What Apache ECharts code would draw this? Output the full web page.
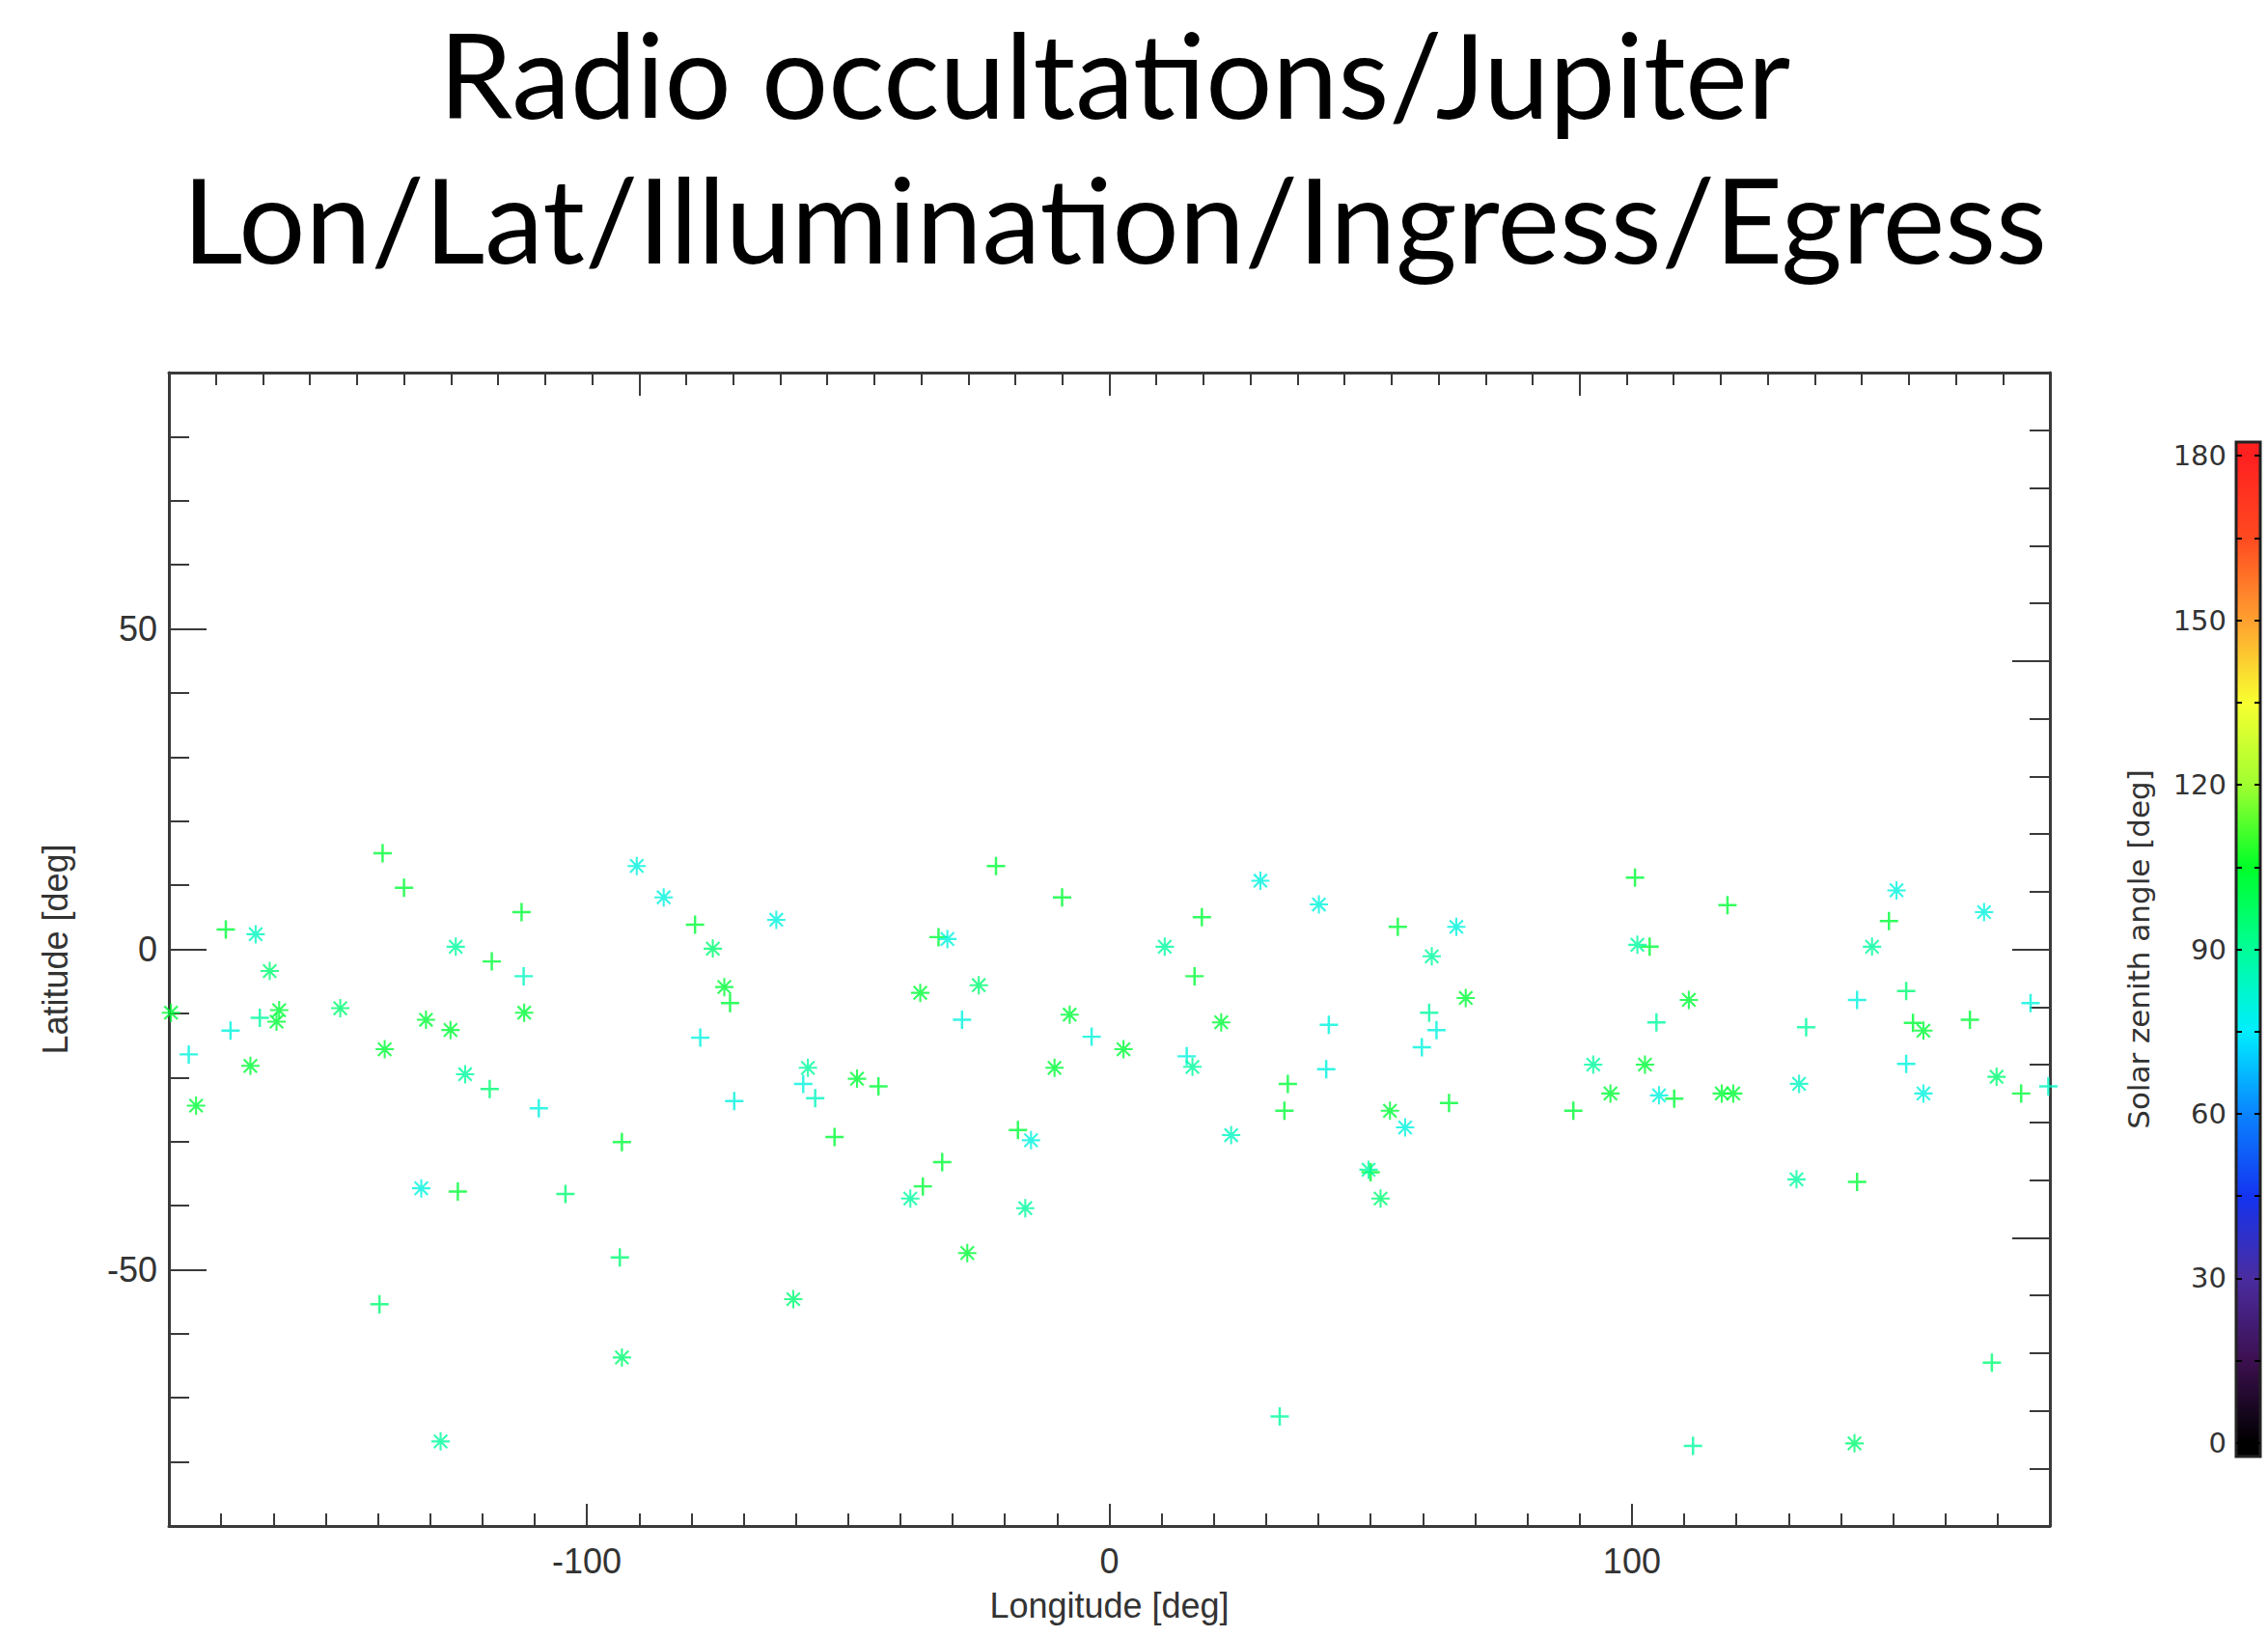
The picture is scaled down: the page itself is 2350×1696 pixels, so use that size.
<!DOCTYPE html>
<html>
<head>
<meta charset="utf-8">
<script src="https://cdn.jsdelivr.net/npm/echarts@6/dist/echarts.min.js"></script>
<style>
html,body{margin:0;padding:0;background:#fff;}
#chart{width:2350px;height:1696px;}
</style>
</head>
<body>
<div id="chart"></div>
<script>
// ---------- text ----------
const titleLines = ['Radio occultations/Jupiter', 'Lon/Lat/Illumination/Ingress/Egress'];
const xAxisName = 'Longitude [deg]';
const yAxisName = 'Latitude [deg]';
const cbarName = 'Solar zenith angle [deg]';

// ---------- tick values ----------
const lonLabelTicks = [-100, 0, 100];
const latLabelTicks = [-50, 0, 50];
const cbarLabelTicks = [0, 30, 60, 90, 120, 150, 180];
const cbarMinorTicks = [0, 15, 30, 45, 60, 75, 90, 105, 120, 135, 150, 165, 180];

// ---------- colour table (solar zenith angle 0..180, one colour every 15 deg) ----------
const cmapColors = ['#000000', '#3c1050', '#4a2ca0', '#1434f0', '#0a84ff', '#00eeff', '#00ff98',
                    '#00ff28', '#a0ff30', '#f8ff30', '#ffa030', '#ff4a20', '#ff2020'];
const szaMin = 0, szaMax = 180;
const cbarExtent = [-2.5, 182.5];

// ---------- data: '+' symbols ----------
const plusLon = [-139.1, -135.0, -112.5, -169.1, -118.2, -112.1, -162.6, -168.2, -176.2, -118.6, -109.2, -93.3, -124.7, -104.1, -93.7, -139.7,
                 -79.3, -72.6, -78.3, -21.7, -9.05, -32.7, -28.2, -3.4, -58.6, -56.3, -44.2, -71.8, -52.6, -17.5, -32.0, -35.7,
                 17.7, 55.2, 16.3, 42.0, 61.2, 62.6, 59.8, 14.8, 41.5, 34.15, 33.5, 65.0, 50.0, 88.8, 32.6,
                 100.6, 118.3, 103.4, 104.7, 108.1, 133.35, 143.1, 143.1, 149.2, 152.5, 153.8, 152.5, 164.7, 174.5, 176.3, 179.7, 168.9, 111.7];
const plusLat = [15.0, 9.6, 5.8, 3.1, -1.9, -4.2, -10.7, -12.7, -16.4, -21.8, -24.8, -30.1, -37.8, -38.2, -48.1, -55.4,
                 3.85, -8.4, -13.8, 13.0, 8.1, 1.9, -11.0, -13.65, -21.0, -23.25, -21.4, -23.7, -29.3, -28.2, -33.2, -37.0,
                 5.0, 3.5, -4.2, -11.8, -9.9, -12.6, -15.3, -16.7, -18.7, -21.0, -25.2, -24.0, -34.8, -25.2, -72.9,
                 11.2, 6.9, 0.4, -11.4, -23.3, -12.15, -36.3, -7.9, 4.4, -6.5, -11.5, -17.9, -11.0, -22.5, -8.4, -21.4, -64.5, -77.5];
const plusSza = [103, 103, 103, 103, 103, 84, 89, 80, 80, 95, 80, 103, 103, 95, 95, 95,
                 103, 103, 80, 103, 103, 103, 80, 80, 80, 84, 103, 80, 103, 103, 103, 103,
                 103, 103, 103, 80, 89, 80, 80, 80, 80, 103, 103, 103, 103, 103, 89,
                 103, 103, 103, 89, 103, 89, 103, 80, 103, 95, 103, 80, 103, 103, 80, 84, 95, 89];

// ---------- data: '*' symbols ----------
const starLon = [-90.46, -163.4, -125.1, -160.7, -179.6, -158.9, -159.4, -147.2, -130.8, -126.1, -112.0, -164.4, -138.7, -123.3, -174.8, -131.7, -93.3, -128.0,
                 -85.3, -63.75, -75.9, -73.7, -31.0, -36.2, -25.0, -7.6, -10.5, -57.7, -48.3, -15.0, -38.1, -16.1, -27.2, -60.5,
                 28.9, 40.1, 10.6, 66.4, 61.7, 68.2, 21.4, 2.7, 15.9, 53.7, 56.6, 23.3, 49.6, 51.9,
                 101.05, 110.9, 92.6, 102.5, 95.9, 105.2, 117.2, 119.4, 132.0, 131.5, 150.65, 145.96, 155.8, 155.8, 167.4, 169.8, 142.6];
const starLat = [13.0, 2.35, 0.4, -3.4, -9.9, -9.5, -11.3, -9.2, -11.0, -12.6, -9.9, -18.2, -15.6, -19.5, -24.4, -37.3, -63.7, -76.8,
                 8.1, 4.6, 0.1, -5.9, 1.6, -6.8, -5.6, -10.2, -18.5, -18.5, -20.2, -29.8, -38.9, -40.4, -47.4, -54.6,
                 10.7, 7.0, 0.4, 3.5, -1.1, -7.6, -11.4, -15.6, -18.35, -25.2, -27.8, -29.0, -34.4, -38.9,
                 0.7, -7.9, -18.0, -18.0, -22.5, -22.8, -22.5, -22.5, -21.0, -35.9, 9.2, 0.4, -12.7, -22.5, 5.8, -19.9, -77.1];
const starSza = [80, 84, 89, 95, 103, 103, 103, 95, 103, 103, 103, 103, 103, 89, 103, 80, 95, 89,
                 80, 80, 95, 103, 80, 103, 95, 103, 103, 89, 103, 80, 89, 89, 103, 95,
                 80, 80, 89, 80, 89, 103, 103, 103, 89, 103, 80, 84, 89, 95,
                 89, 103, 89, 103, 103, 80, 103, 103, 84, 89, 80, 89, 103, 80, 80, 95, 95];

// ---------- symbols ----------
const plusPath = 'path://M-1,-0.13 L1,-0.13 L1,0.13 L-1,0.13 Z M-0.13,-1 L0.13,-1 L0.13,1 L-0.13,1 Z';
const starPath = 'path://M-1,-0.11 L1,-0.11 L1,0.11 L-1,0.11 Z M-0.11,-1 L0.11,-1 L0.11,1 L-0.11,1 Z ' +
                 'M-0.64,-0.8 L0.8,0.64 L0.64,0.8 L-0.8,-0.64 Z ' +
                 'M-0.8,0.64 L0.64,-0.8 L0.8,-0.64 L-0.64,0.8 Z';

const zip3 = (a, b, c) => a.map((v, i) => [v, b[i], c[i]]);

// colour bar gradient built from the same colour table
const cbarStops = cmapColors.map((c, i) => ({
  offset: ((szaMin + i * (szaMax - szaMin) / (cmapColors.length - 1)) - cbarExtent[0]) / (cbarExtent[1] - cbarExtent[0]),
  color: c
}));
cbarStops.unshift({offset: 0, color: cmapColors[0]});
cbarStops.push({offset: 1, color: cmapColors[cmapColors.length - 1]});

const axisColor = '#3a3a3a';
const labelFont = "'Liberation Sans', Arial, sans-serif";
const cbarFont = "'DejaVu Sans', sans-serif";
const titleStyle = {fontFamily: 'Lato, sans-serif', fontSize: 122, fontWeight: 'normal', color: '#000', lineHeight: 122};

const chart = echarts.init(document.getElementById('chart'), null, {renderer: 'svg', width: 2350, height: 1696});

const plotAxisLine = {show: true, onZero: false, lineStyle: {color: axisColor, width: 3}};

chart.setOption({
  animation: false,
  backgroundColor: '#ffffff',
  title: [
    {text: titleLines[0], left: 1155, top: 15, padding: 0, textAlign: 'center', textStyle: titleStyle},
    {text: titleLines[1], left: 1155, top: 165, padding: 0, textAlign: 'center', textStyle: titleStyle}
  ],
  grid: [
    {left: 175, right: 226, top: 386, bottom: 115},
    {left: 2317, right: 8, top: 458, bottom: 187}
  ],
  visualMap: {
    type: 'continuous', show: false, min: szaMin, max: szaMax, dimension: 2,
    seriesIndex: [0, 1], inRange: {color: cmapColors}
  },
  xAxis: [
    { // bottom minor ticks
      gridIndex: 0, type: 'value', position: 'bottom', min: -180, max: 180, interval: 10,
      axisLine: plotAxisLine,
      axisTick: {show: true, inside: true, length: 13, lineStyle: {color: axisColor, width: 2}},
      axisLabel: {show: false}, splitLine: {show: false}
    },
    { // bottom major ticks + labels
      gridIndex: 0, type: 'value', position: 'bottom', min: -180, max: 180,
      axisLine: {show: false, onZero: false},
      axisTick: {show: true, inside: true, length: 23, customValues: lonLabelTicks, lineStyle: {color: axisColor, width: 2}},
      axisLabel: {show: true, customValues: lonLabelTicks, margin: 18, fontSize: 36, fontFamily: labelFont, color: '#333'},
      splitLine: {show: false},
      name: xAxisName, nameLocation: 'middle', nameGap: 64,
      nameTextStyle: {fontSize: 36, fontFamily: labelFont, color: '#333'}
    },
    { // top axis
      gridIndex: 0, type: 'value', position: 'top', min: -180, max: 180, interval: 90,
      axisLine: plotAxisLine,
      axisTick: {show: true, inside: true, length: 24, lineStyle: {color: axisColor, width: 2}},
      minorTick: {show: true, splitNumber: 10, length: 13, lineStyle: {color: axisColor, width: 2}},
      axisLabel: {show: false}, splitLine: {show: false}
    },
    { // colour bar x
      gridIndex: 1, type: 'value', min: 0, max: 1, show: false
    }
  ],
  yAxis: [
    { // left minor ticks
      gridIndex: 0, type: 'value', position: 'left', min: -90, max: 90, interval: 10,
      axisLine: plotAxisLine,
      axisTick: {show: true, inside: true, length: 21, lineStyle: {color: axisColor, width: 2}},
      axisLabel: {show: false}, splitLine: {show: false}
    },
    { // left major ticks + labels
      gridIndex: 0, type: 'value', position: 'left', min: -90, max: 90,
      axisLine: {show: false, onZero: false},
      axisTick: {show: true, inside: true, length: 39, customValues: latLabelTicks, lineStyle: {color: axisColor, width: 2}},
      axisLabel: {show: true, customValues: latLabelTicks, margin: 12, fontSize: 36, fontFamily: labelFont, color: '#333'},
      splitLine: {show: false},
      name: yAxisName, nameLocation: 'middle', nameGap: 100,
      nameTextStyle: {fontSize: 36, fontFamily: labelFont, color: '#333'}
    },
    { // right axis
      gridIndex: 0, type: 'value', position: 'right', min: -90, max: 90, interval: 45,
      axisLine: plotAxisLine,
      axisTick: {show: true, inside: true, length: 39, lineStyle: {color: axisColor, width: 2}},
      minorTick: {show: true, splitNumber: 5, length: 21, lineStyle: {color: axisColor, width: 2}},
      axisLabel: {show: false}, splitLine: {show: false}
    },
    { // colour bar left axis with labels
      gridIndex: 1, type: 'value', position: 'left', min: cbarExtent[0], max: cbarExtent[1], z: 5,
      axisLine: {show: false, onZero: false},
      axisTick: {show: true, inside: true, length: 6, customValues: cbarMinorTicks, lineStyle: {color: '#000', width: 2}},
      axisLabel: {show: true, customValues: cbarLabelTicks, margin: 10, fontSize: 29, fontFamily: cbarFont, color: '#333'},
      splitLine: {show: false},
      name: cbarName, nameLocation: 'middle', nameGap: 86,
      nameTextStyle: {fontSize: 31, fontFamily: cbarFont, color: '#333'}
    },
    { // colour bar right ticks
      gridIndex: 1, type: 'value', position: 'right', min: cbarExtent[0], max: cbarExtent[1], z: 5,
      axisLine: {show: false, onZero: false},
      axisTick: {show: true, inside: true, length: 6, customValues: cbarMinorTicks, lineStyle: {color: '#000', width: 2}},
      axisLabel: {show: false}, splitLine: {show: false}
    }
  ],
  series: [
    {
      name: '+', type: 'scatter', xAxisIndex: 0, yAxisIndex: 0,
      symbol: plusPath, symbolSize: 19, silent: true,
      data: zip3(plusLon, plusLat, plusSza)
    },
    {
      name: '*', type: 'scatter', xAxisIndex: 0, yAxisIndex: 0,
      symbol: starPath, symbolSize: 19, silent: true,
      data: zip3(starLon, starLat, starSza)
    },
    {
      name: 'colorbar', type: 'custom', xAxisIndex: 3, yAxisIndex: 3, z: 1, silent: true,
      data: [[0, cbarExtent[0], cbarExtent[1]]],
      renderItem: function (params, api) {
        const a = api.coord([0, api.value(1)]);
        const b = api.coord([1, api.value(2)]);
        return {
          type: 'rect',
          shape: {x: a[0], y: b[1], width: b[0] - a[0], height: a[1] - b[1]},
          style: {
            fill: {type: 'linear', x: 0, y: 1, x2: 0, y2: 0, colorStops: cbarStops},
            stroke: '#222', lineWidth: 3
          }
        };
      }
    }
  ]
});
</script>
</body>
</html>
